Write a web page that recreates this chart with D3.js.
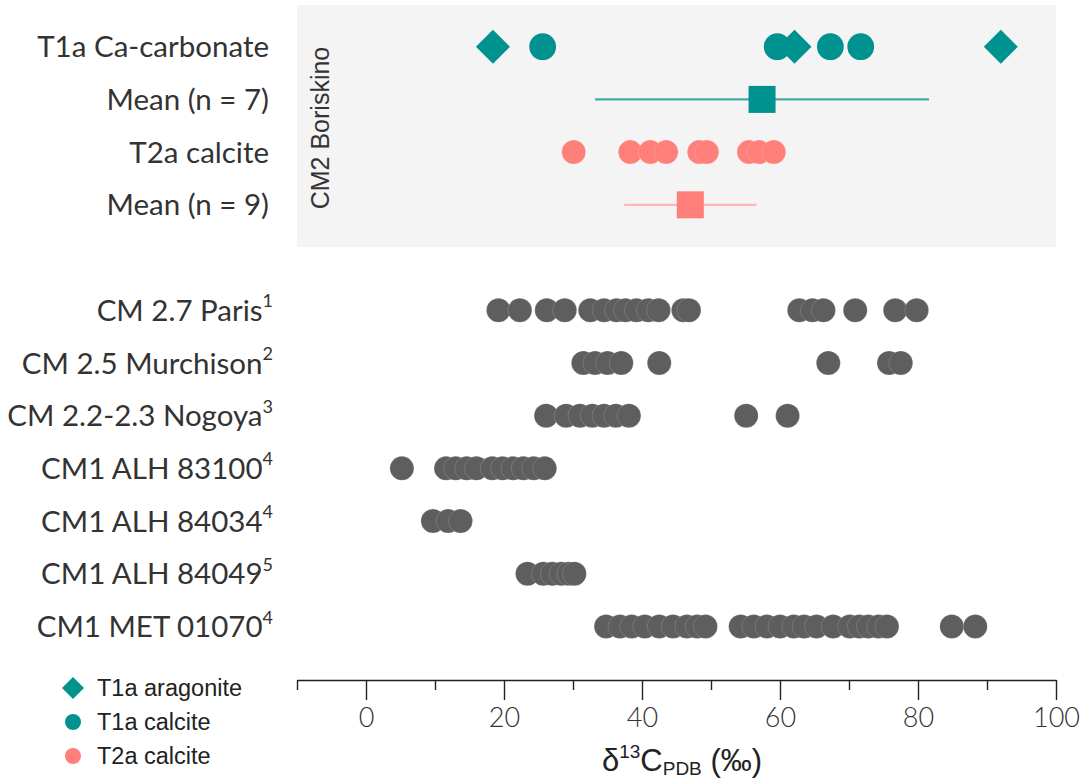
<!DOCTYPE html>
<html>
<head>
<meta charset="utf-8">
<script src="https://cdn.jsdelivr.net/npm/d3@7/dist/d3.min.js"></script>
<style>
  html, body { margin: 0; padding: 0; background: #fff; }
  svg { display: block; }
</style>
</head>
<body>
<svg id="chart" width="1088" height="783"></svg>
<script>
// ---- data: δ13C (‰ PDB) of carbonates ----
const boriskinoRows = ["T1a Ca-carbonate", "Mean (n = 7)", "T2a calcite", "Mean (n = 9)"];

const t1aAragonite = [18.4, 62.1, 92.0];
const t1aCalcite   = [25.6, 59.6, 67.3, 71.7];
const t2aCalcite   = [30.1, 38.3, 41.2, 43.5, 48.3, 49.4, 55.5, 57.0, 59.1];

const meanValues = [57.4, 47.0];   // T1a, T2a
const meanErrors = [24.2, 9.6];

const meteoriteNames = ["CM 2.7 Paris", "CM 2.5 Murchison", "CM 2.2-2.3 Nogoya",
                        "CM1 ALH 83100", "CM1 ALH 84034", "CM1 ALH 84049", "CM1 MET 01070"];
const meteoriteRefs  = ["1", "2", "3", "4", "4", "5", "4"];

const parisValues     = [19.2, 22.3, 26.2, 28.8, 32.5, 34.5, 36.3, 37.6, 39.2, 40.9, 42.4, 46.0, 46.8,
                         62.8, 64.7, 66.3, 70.9, 76.7, 79.8];
const murchisonValues = [31.5, 33.2, 35.0, 37.0, 42.5, 67.0, 75.8, 77.5];
const nogoyaValues    = [26.1, 29.0, 31.0, 32.8, 34.5, 36.2, 38.1, 55.1, 61.1];
const alh83100Values  = [5.2, 11.6, 13.0, 14.6, 16.0, 18.3, 19.8, 21.3, 22.8, 24.3, 25.9];
const alh84034Values  = [9.7, 11.9, 13.7];
const alh84049Values  = [23.4, 25.7, 27.0, 28.3, 29.4, 30.2];
const met01070Values  = [34.8, 36.8, 38.5, 40.4, 42.5, 44.5, 46.5, 48.0, 49.2,
                         54.3, 56.2, 58.1, 60.0, 62.0, 63.5, 65.3, 67.7, 70.1, 71.5, 72.8, 74.3, 75.5,
                         84.9, 88.3];
const meteoriteValues = [parisValues, murchisonValues, nogoyaValues, alh83100Values,
                         alh84034Values, alh84049Values, met01070Values];

const majorTicks = [0, 20, 40, 60, 80, 100];
const minorTicks = [-10, 10, 30, 50, 70, 90];

const legendLabels = ["T1a aragonite", "T1a calcite", "T2a calcite"];

// ---- styling ----
const TEAL = "#00928e";
const PINK = "#ff7f7a";
const GREY = "#5e5e5e";
const labelFont = "Lato, 'Open Sans', sans-serif";
const sansFont = "Arial, 'Liberation Sans', Helvetica, sans-serif";

const svg = d3.select("#chart");

// x: δ13C value -> pixel
const x = d3.scaleLinear().domain([-10, 100]).range([297, 1056]);

// y: one slot per row; slot "gap" separates the Boriskino panel from the other meteorites
const rowKeys = [...boriskinoRows, "gap", ...meteoriteNames];
const y = d3.scalePoint().domain(rowKeys).range([46.7, 626.5]);

// ---- Boriskino panel background ----
svg.append("rect")
  .attr("x", x(-10)).attr("y", 5)
  .attr("width", x(100) - x(-10)).attr("height", 242)
  .attr("fill", "#f4f4f4");

svg.append("text")
  .attr("transform", `translate(${x(-10) + 32},${128}) rotate(-90)`)
  .attr("text-anchor", "middle")
  .attr("font-family", sansFont)
  .attr("font-size", 25)
  .attr("fill", "#333")
  .text("CM2 Boriskino");

// ---- row labels ----
const labelX = 269;
const labels = svg.append("g")
  .attr("font-family", labelFont)
  .attr("font-size", 29.5)
  .attr("fill", "#333");

labels.selectAll("text.top")
  .data(boriskinoRows)
  .join("text")
  .attr("class", "top")
  .attr("x", labelX)
  .attr("y", d => y(d))
  .attr("dy", "0.36em")
  .attr("text-anchor", "end")
  .text(d => d);

const metLabel = labels.selectAll("text.met")
  .data(meteoriteNames)
  .join("text")
  .attr("class", "met")
  .attr("x", labelX + 4)
  .attr("y", d => y(d))
  .attr("dy", "0.36em")
  .attr("text-anchor", "end");
metLabel.append("tspan").text(d => d);
metLabel.append("tspan")
  .attr("font-size", 18)
  .attr("dy", "-0.75em")
  .text((d, i) => meteoriteRefs[i]);

// ---- Boriskino points ----
function diamondPath(half) {
  return `M0,${-half}L${half},0L0,${half}L${-half},0Z`;
}

// T1a calcite
svg.append("g").selectAll("circle")
  .data(t1aCalcite)
  .join("circle")
  .attr("cx", d => x(d))
  .attr("cy", y(boriskinoRows[0]))
  .attr("r", 13.4)
  .attr("fill", TEAL);

// T1a aragonite
svg.append("g").selectAll("path")
  .data(t1aAragonite)
  .join("path")
  .attr("transform", d => `translate(${x(d)},${y(boriskinoRows[0])})`)
  .attr("d", diamondPath(17))
  .attr("fill", TEAL);

// T2a calcite
svg.append("g").selectAll("circle")
  .data(t2aCalcite)
  .join("circle")
  .attr("cx", d => x(d))
  .attr("cy", y(boriskinoRows[2]))
  .attr("r", 12)
  .attr("fill", PINK)
  .attr("stroke", "#fff")
  .attr("stroke-opacity", 0.2)
  .attr("stroke-width", 0.8);

// means with spread
const meanRows = [boriskinoRows[1], boriskinoRows[3]];
const meanColors = [TEAL, PINK];
const meanLineColors = ["#45aaa7", "#ffb8b5"];
const meanG = svg.append("g");
meanG.selectAll("line")
  .data(meanValues)
  .join("line")
  .attr("x1", (d, i) => x(d - meanErrors[i]))
  .attr("x2", (d, i) => x(d + meanErrors[i]))
  .attr("y1", (d, i) => y(meanRows[i]))
  .attr("y2", (d, i) => y(meanRows[i]))
  .attr("stroke", (d, i) => meanLineColors[i])
  .attr("stroke-width", 2.2);
meanG.selectAll("rect")
  .data(meanValues)
  .join("rect")
  .attr("x", d => x(d) - 13.5)
  .attr("y", (d, i) => y(meanRows[i]) - 13.5)
  .attr("width", 27)
  .attr("height", 27)
  .attr("fill", (d, i) => meanColors[i]);

// ---- other meteorites ----
const metG = svg.append("g");
meteoriteNames.forEach((name, i) => {
  metG.append("g").selectAll("circle")
    .data(meteoriteValues[i])
    .join("circle")
    .attr("cx", d => x(d))
    .attr("cy", y(name))
    .attr("r", 12)
    .attr("fill", GREY)
    .attr("stroke", "#fff")
    .attr("stroke-opacity", 0.2)
    .attr("stroke-width", 0.8);
});

// ---- x axis ----
const axisY = 680;
const majorAxis = d3.axisBottom(x)
  .tickValues(majorTicks)
  .tickSize(20)
  .tickSizeOuter(0)
  .tickPadding(8)
  .tickFormat(d3.format("d"));
const minorAxis = d3.axisBottom(x)
  .tickValues(minorTicks)
  .tickSize(10)
  .tickSizeOuter(0)
  .tickFormat("");

const gMinor = svg.append("g").attr("transform", `translate(0,${axisY})`).call(minorAxis);
gMinor.select(".domain").remove();
gMinor.selectAll(".tick line").attr("stroke", "#222").attr("stroke-width", 1.4);

const gMajor = svg.append("g").attr("transform", `translate(0,${axisY})`).call(majorAxis);
gMajor.select(".domain").attr("stroke", "#222").attr("stroke-width", 1.6);
gMajor.selectAll(".tick line").attr("stroke", "#222").attr("stroke-width", 1.4);
gMajor.selectAll(".tick text")
  .attr("font-family", labelFont)
  .attr("font-weight", 300)
  .attr("font-size", 27)
  .attr("fill", "#333");

// axis title: δ13C_PDB (‰)
const title = svg.append("text")
  .attr("x", 682)
  .attr("y", 771)
  .attr("text-anchor", "middle")
  .attr("font-family", sansFont)
  .attr("font-size", 31)
  .attr("fill", "#222");
title.append("tspan").text("δ");
title.append("tspan").attr("font-size", 19).attr("dy", -13).text("13");
title.append("tspan").attr("dy", 13).text("C");
title.append("tspan").attr("font-size", 19).attr("dy", 4).text("PDB");
title.append("tspan").attr("dy", -4).text(" (‰)");

// ---- legend ----
const legendY = [688, 722, 756];
const legend = svg.append("g");
legend.append("path")
  .attr("transform", `translate(73,${legendY[0]})`)
  .attr("d", diamondPath(11))
  .attr("fill", TEAL);
legend.append("circle").attr("cx", 73).attr("cy", legendY[1]).attr("r", 8).attr("fill", TEAL);
legend.append("circle").attr("cx", 73).attr("cy", legendY[2]).attr("r", 8).attr("fill", PINK);
legend.selectAll("text")
  .data(legendLabels)
  .join("text")
  .attr("x", 97)
  .attr("y", (d, i) => legendY[i])
  .attr("dy", "0.36em")
  .attr("font-family", sansFont)
  .attr("font-size", 23.5)
  .attr("fill", "#222")
  .text(d => d);
</script>
</body>
</html>
